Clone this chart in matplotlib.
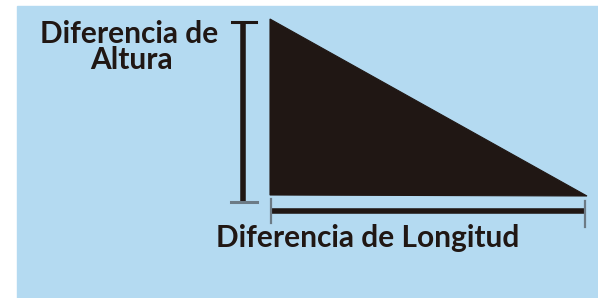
import matplotlib.pyplot as plt
from matplotlib.patches import Polygon, Rectangle

# diagram data (pixel coordinates of the sketch)
tri_x = [270, 270, 587]
tri_y = [19, 195, 196]
height_label = ["Diferencia de", "Altura"]
length_label = "Diferencia de Longitud"

bg = '#b4daf1'
dark = '#201714'
tick_gray = '#6c7b86'

fig = plt.figure(figsize=(5.98, 2.98), dpi=100)
ax = fig.add_axes([0, 0, 1, 1])
ax.set_xlim(0, 598)
ax.set_ylim(298, 0)
ax.axis('off')

ax.add_patch(Rectangle((17, 6), 598 - 17, 298 - 6, color=bg, zorder=0))

# triangle
ax.add_patch(Polygon(list(zip(tri_x, tri_y)), closed=True, facecolor=dark,
                     edgecolor=dark, linewidth=0.8, zorder=2))

# vertical dimension line (height)
vx = tri_x[0] - 27
ax.plot([vx, vx], [tri_y[0] + 3, tri_y[1] + 7], color=dark, linewidth=4, solid_capstyle='butt')
ax.plot([vx - 11, vx + 13], [tri_y[0] + 3, tri_y[0] + 3], color=dark, linewidth=2.2)
ax.plot([vx - 12, vx + 14], [tri_y[1] + 7, tri_y[1] + 7], color=tick_gray, linewidth=2.2)

# horizontal dimension line (length)
hy = tri_y[1] + 16
ax.plot([tri_x[0] + 1, tri_x[2] - 2], [hy, hy], color=dark, linewidth=4, solid_capstyle='butt')
ax.plot([tri_x[0] + 1, tri_x[0] + 1], [hy - 12, hy + 12], color=tick_gray, linewidth=1.6)
ax.plot([tri_x[2] - 2, tri_x[2] - 2], [hy - 10, hy + 16], color=tick_gray, linewidth=1.6)

font = dict(family='Lato', fontweight='bold', fontsize=21.5, color=dark)
ax.text(129, 43, height_label[0], ha='center', va='baseline', **font)
ax.text(131, 69, height_label[1], ha='center', va='baseline', **font)
ax.text(216, 247, length_label, ha='left', va='baseline', **font)

fig.savefig('out.png', dpi=100)
